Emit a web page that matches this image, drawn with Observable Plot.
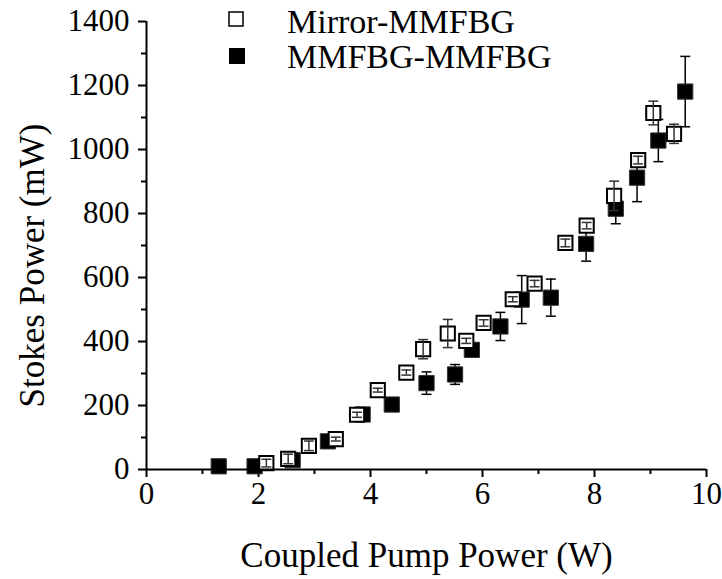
<!DOCTYPE html>
<html>
<head>
<meta charset="utf-8">
<script src="https://cdn.jsdelivr.net/npm/d3@7"></script>
<script src="https://cdn.jsdelivr.net/npm/@observablehq/plot@0.6"></script>
<style>
  html, body { margin: 0; padding: 0; background: #fff; }
  #chart { position: relative; width: 722px; height: 579px; }
  #chart svg, #chart svg text { font-family: "Liberation Serif", "Times New Roman", "DejaVu Serif", serif !important; }
</style>
</head>
<body>
<div id="chart"></div>
<script>
// Series: Mirror-MMFBG (open squares)
const mirrorX   = [2.14, 2.53, 2.90, 3.38, 3.76, 4.13, 4.64, 4.94, 5.38, 5.71, 6.02, 6.54, 6.93, 7.48, 7.86, 8.35, 8.78, 9.05, 9.42];
const mirrorY   = [20, 33, 74, 95, 171, 248, 303, 376, 425, 402, 458, 532, 581, 708, 762, 855, 967, 1114, 1049];
const mirrorErr = [12, 15, 15, 6, 8, 6, 8, 30, 44, 8, 10, 8, 10, 12, 10, 46, 12, 37, 30];

// Series: MMFBG-MMFBG (filled squares)
const mmX   = [1.29, 1.93, 2.61, 3.24, 3.86, 4.38, 5.00, 5.51, 5.81, 6.32, 6.70, 7.22, 7.85, 8.38, 8.76, 9.14, 9.62];
const mmY   = [10, 10, 29, 88, 172, 203, 270, 297, 374, 447, 531, 537, 705, 815, 912, 1028, 1181];
const mmErr = [0, 0, 5, 5, 8, 8, 35, 31, 10, 44, 75, 58, 54, 47, 75, 66, 110];

// Axis ticks
const xTicks = [0, 2, 4, 6, 8, 10];
const xMinor = [1, 3, 5, 7, 9];
const yTicks = [0, 200, 400, 600, 800, 1000, 1200, 1400];
const yMinor = [100, 300, 500, 700, 900, 1100, 1300];

const seriesNames = ["Mirror-MMFBG", "MMFBG-MMFBG"];

const mirror = mirrorX.map((x, i) => ({x, y: mirrorY[i], e: mirrorErr[i]}));
const mm = mmX.map((x, i) => ({x, y: mmY[i], e: mmErr[i]}));

const cap = {draw(ctx, size) { const r = Math.sqrt(size) / 2; ctx.moveTo(-r, 0); ctx.lineTo(r, 0); }};

const font = "Liberation Serif, DejaVu Serif, serif";
const fmt = d3.format("d");

const chart = Plot.plot({
  width: 722,
  height: 579,
  marginLeft: 146,
  marginRight: 16,
  marginTop: 21,
  marginBottom: 110,
  x: {domain: [0, 10]},
  y: {domain: [0, 1400]},
  style: {fontFamily: font, fontSize: "31px", color: "black", background: "white"},
  marks: [
    Plot.axisX({ticks: xTicks, tickFormat: fmt, tickSize: 8, tickPadding: 4, label: null, strokeWidth: 2, fontSize: 31}),
    Plot.axisX({ticks: xMinor, tickSize: 5, text: null, label: null, strokeWidth: 2}),
    Plot.axisY({ticks: yTicks, tickFormat: fmt, tickSize: 8, tickPadding: 9, label: null, strokeWidth: 2, fontSize: 31}),
    Plot.axisY({ticks: yMinor, tickSize: 5, text: null, label: null, strokeWidth: 2}),
    // filled series error bars
    Plot.ruleX(mm.filter(d => d.e > 0), {x: "x", y1: d => d.y - d.e, y2: d => d.y + d.e, stroke: "black", strokeWidth: 1.5}),
    Plot.dot(mm.filter(d => d.e > 0), {x: "x", y: d => d.y - d.e, symbol: cap, r: 5.6, stroke: "black", strokeWidth: 1.5}),
    Plot.dot(mm.filter(d => d.e > 0), {x: "x", y: d => d.y + d.e, symbol: cap, r: 5.6, stroke: "black", strokeWidth: 1.5}),
    Plot.dot(mm, {x: "x", y: "y", symbol: "square", r: 8.6, fill: "black", stroke: "#333", strokeWidth: 1}),
    Plot.dot(mirror, {x: "x", y: "y", symbol: "square", r: 8.0, fill: "white", stroke: "black", strokeWidth: 2}),
    Plot.ruleX(mirror, {x: "x", y1: d => d.y - d.e, y2: d => d.y + d.e, stroke: "#333", strokeWidth: 1.5}),
    Plot.dot(mirror, {x: "x", y: d => d.y - d.e, symbol: cap, r: 5.6, stroke: "#333", strokeWidth: 1.5}),
    Plot.dot(mirror, {x: "x", y: d => d.y + d.e, symbol: cap, r: 5.6, stroke: "#333", strokeWidth: 1.5}),
    Plot.ruleY([0], {strokeWidth: 2}),
    Plot.ruleX([0], {strokeWidth: 2}),
    Plot.text(["Coupled Pump Power (W)"], {frameAnchor: "bottom", textAnchor: "middle", lineAnchor: "middle", dy: 86, fontSize: 35}),
    Plot.text(["Stokes Power (mW)"], {frameAnchor: "left", textAnchor: "middle", lineAnchor: "middle", rotate: -90, dx: -114, dy: 20, fontSize: 35})
  ]
});

document.getElementById("chart").appendChild(chart);

// Legend
const svg = d3.select(chart);
const lg = svg.append("g").attr("font-size", 34).attr("text-anchor", "start");
lg.append("rect").attr("x", 229).attr("y", 12).attr("width", 14).attr("height", 14)
  .attr("fill", "white").attr("stroke", "black").attr("stroke-width", 1.5);
lg.append("rect").attr("x", 229).attr("y", 48).attr("width", 16).attr("height", 16)
  .attr("fill", "black");
lg.append("text").attr("x", 287).attr("y", 33).text(seriesNames[0]);
lg.append("text").attr("x", 287).attr("y", 68).text(seriesNames[1]);
</script>
</body>
</html>
